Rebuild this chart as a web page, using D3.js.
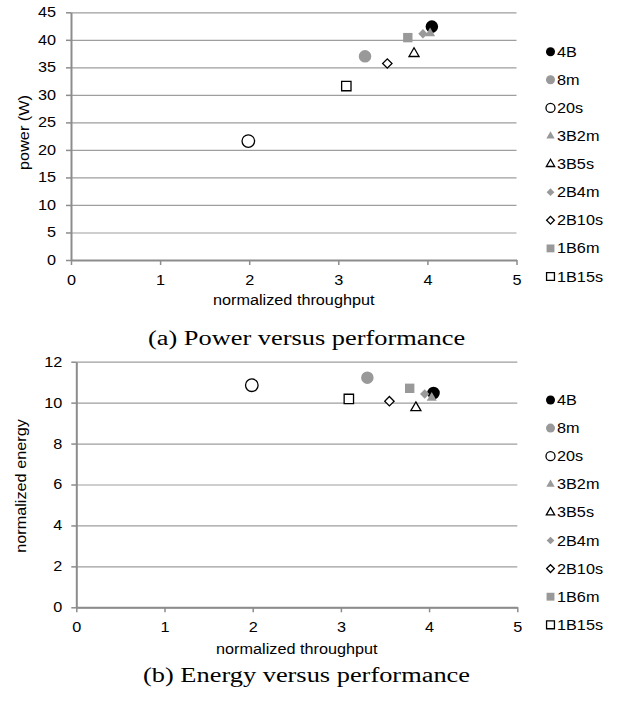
<!DOCTYPE html>
<html>
<head>
<meta charset="utf-8">
<script src="https://cdnjs.cloudflare.com/ajax/libs/d3/7.8.5/d3.min.js"></script>
<style>
body { margin: 0; background: #fff; }
text { font-family: "Liberation Sans", Arial, Helvetica, sans-serif; fill: #000; }
.caption { font-family: "Liberation Serif", "Times New Roman", serif; }
</style>
</head>
<body>
<div id="viz"></div>
<script>
// configurations (same order as the legend)
var series = ["4B", "8m", "20s", "3B2m", "3B5s", "2B4m", "2B10s", "1B6m", "1B15s"];
var throughput = [4.05, 3.30, 1.99, 4.03, 3.85, 3.95, 3.55, 3.78, 3.09];
var power = [42.4, 37.0, 21.6, 41.2, 37.5, 41.1, 35.7, 40.4, 31.6];
var energy = [10.47, 11.22, 10.85, 10.24, 9.75, 10.42, 10.07, 10.70, 10.18];

var xTicks = [0, 1, 2, 3, 4, 5];
var powerTicks = [0, 5, 10, 15, 20, 25, 30, 35, 40, 45];
var energyTicks = [0, 2, 4, 6, 8, 10, 12];

// marker look per series
var shapes = ["circle", "circle", "circle", "triangle", "triangle", "diamond", "diamond", "square", "square"];
var fills = ["#000", "#999", "#fff", "#999", "#fff", "#999", "#fff", "#999", "#fff"];

const width = 618;
const height = 703;
const K = 1.16; // reference text is wider than Liberation Sans
const KC = 1.32; // same for the serif captions
const grey = "#8c8c8c";

var svg = d3.select("#viz")
    .append("svg")
    .attr("width", width)
    .attr("height", height);

// symbol size (area) for plot and legend
function symbolPath(shape, small) {
    var type = d3.symbolCircle, size = small ? 64 : 124;
    if (shape == "triangle") { type = d3.symbolTriangle; size = small ? 30 : 44; }
    if (shape == "square") { type = d3.symbolSquare; size = small ? 62 : 88; }
    if (shape == "diamond") { type = d3.symbolSquare; size = small ? 30 : 44; }
    return d3.symbol().type(type).size(size)();
}

function drawMarker(g, i, small) {
    var hollow = fills[i] == "#fff";
    g.append("path")
        .attr("d", symbolPath(shapes[i], small))
        .attr("transform", shapes[i] == "diamond" ? "rotate(45)" : null)
        .style("fill", fills[i])
        .style("stroke", hollow ? "#000" : "none")
        .style("stroke-width", 1.3);
}

function drawPanel(p) {
    var x = d3.scaleLinear().domain([0, 5]).range([p.x0, p.x1]);
    var y = d3.scaleLinear().domain([0, p.yMax]).range([p.yBot, p.yTop]);

    // gridlines
    var grid = svg.append("g")
        .attr("transform", `translate(${p.x0},0)`)
        .call(d3.axisLeft(y).tickValues(p.yTicks).tickSize(-(p.x1 - p.x0)).tickFormat(""));
    grid.select(".domain").remove();
    grid.selectAll("line").style("stroke", "#9e9e9e").style("stroke-width", 1.2);

    // x axis
    var xa = svg.append("g")
        .attr("transform", `translate(0,${p.yBot})`)
        .call(d3.axisBottom(x).tickValues(xTicks).tickSize(5).tickSizeOuter(0).tickPadding(10).tickFormat(d3.format("d")));
    xa.select(".domain").style("stroke", grey).style("stroke-width", 2);
    xa.selectAll("line").style("stroke", grey).style("stroke-width", 1.5);
    xa.selectAll("text")
        .style("font-size", "14px")
        .attr("transform", `scale(${K},1)`);

    // y axis
    var ya = svg.append("g")
        .attr("transform", `translate(${p.x0},0)`)
        .call(d3.axisLeft(y).tickValues(p.yTicks).tickSize(5).tickSizeOuter(0).tickFormat(d3.format("d")));
    ya.select(".domain").style("stroke", grey).style("stroke-width", 2);
    ya.selectAll("line").style("stroke", grey).style("stroke-width", 1.5);
    ya.selectAll("text")
        .style("font-size", "14px")
        .attr("x", -p.labelGap / K)
        .attr("transform", `scale(${K},1)`);
    svg.selectAll(".tick text").attr("font-family", null).attr("font-size", null);

    // points
    var pts = svg.append("g").selectAll("g")
        .data(series)
        .enter()
        .append("g")
        .attr("transform", function (d, i) {
            return `translate(${x(throughput[i])},${y(p.values[i])})`;
        });
    pts.each(function (d, i) {
        drawMarker(d3.select(this), i, false);
    });

    // axis titles
    svg.append("text")
        .attr("text-anchor", "middle")
        .attr("transform", `translate(${(p.x0 + p.x1) / 2},${p.xTitleY}) scale(${K},1)`)
        .style("font-size", "14px")
        .text("normalized throughput");

    svg.append("text")
        .attr("text-anchor", "middle")
        .attr("transform", `translate(${p.yTitleX},${p.yTitleY}) rotate(-90) scale(${K},1)`)
        .style("font-size", "14px")
        .text(p.yTitle);

    // legend
    var leg = svg.append("g").selectAll("g")
        .data(series)
        .enter()
        .append("g")
        .attr("transform", function (d, i) {
            return `translate(550.5,${p.legendY + i * 28.1})`;
        });
    leg.each(function (d, i) {
        drawMarker(d3.select(this), i, true);
    });
    leg.append("text")
        .attr("transform", `translate(6.5,5) scale(${K},1)`)
        .style("font-size", "14px")
        .text(function (d) { return d; });

    // caption
    svg.append("text")
        .attr("class", "caption")
        .attr("text-anchor", "middle")
        .attr("transform", `translate(306.5,${p.captionY}) scale(${KC},1)`)
        .style("font-size", "20px")
        .text(p.caption);
}

drawPanel({
    x0: 71, x1: 516.5, yTop: 12.3, yBot: 260, yMax: 45,
    yTicks: powerTicks, values: power, labelGap: 15,
    yTitle: "power (W)", yTitleX: 29, yTitleY: 132.5, xTitleY: 305,
    legendY: 51.7, caption: "(a) Power versus performance", captionY: 345
});

drawPanel({
    x0: 76.3, x1: 517.3, yTop: 361.7, yBot: 607.3, yMax: 12,
    yTicks: energyTicks, values: energy, labelGap: 14,
    yTitle: "normalized energy", yTitleX: 26, yTitleY: 486, xTitleY: 654,
    legendY: 400, caption: "(b) Energy versus performance", captionY: 682
});
</script>
</body>
</html>
